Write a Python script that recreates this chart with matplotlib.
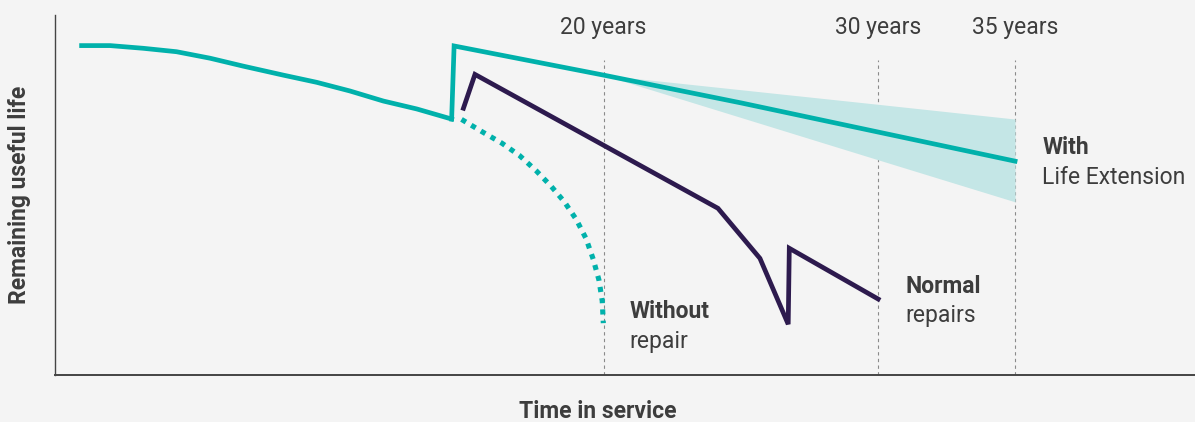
import matplotlib
matplotlib.use("Agg")
import matplotlib.pyplot as plt

# ---- data (x in years of service, y = remaining useful life, 0-100 scale) ----
before_years = [0.97, 2.01, 3.22, 4.43, 5.65, 6.86, 8.32, 9.54, 10.75, 11.97, 13.19, 14.46]
before_life = [91.5, 91.5, 90.75, 89.8, 88.0, 85.8, 83.3, 81.3, 78.9, 76.1, 73.9, 71.1]

extension_years = [14.46, 14.55, 20.0, 25.0, 30.0, 35.0]
extension_life = [71.1, 91.4, 83.3, 75.6, 67.5, 59.4]

band_years = [20.0, 30.0, 35.0]
band_upper = [83.3, 75.2, 71.1]
band_lower = [83.3, 59.8, 48.1]

no_repair_years = [14.82, 15.61, 16.29, 16.93, 17.54, 18.08, 18.57, 19.0, 19.36, 19.62,
                   19.83, 19.95, 19.99]
no_repair_life = [71.0, 67.4, 64.4, 61.0, 56.75, 52.5, 48.1, 43.25, 37.9, 32.2,
                  26.4, 20.6, 14.4]

normal_years = [14.89, 15.31, 24.17, 25.70, 26.73, 26.77, 30.01]
normal_life = [74.1, 83.5, 46.3, 32.4, 14.1, 35.2, 21.1]

milestone_years = [20, 30, 35]
milestone_labels = ["20 years", "30 years", "35 years"]

# ---- styling ----
BG = "#f4f4f4"
TEAL = "#00b1ab"
PURPLE = "#2d1a4e"
BAND = "#c4e6e6"
TXT = "#3d3d3d"
FS = 16.5
LW = 3.4
plt.rcParams["font.family"] = ["Roboto", "DejaVu Sans"]

W, H = 1195, 422
fig = plt.figure(figsize=(W / 100, H / 100), dpi=100, facecolor=BG)
ax = fig.add_axes([55 / W, (H - 375) / H, (W - 55) / W, 360 / H], facecolor=BG)
ax.set_xlim(0, (W - 55) / 27.43)
ax.set_ylim(0, 100)

for s in ["top", "right"]:
    ax.spines[s].set_visible(False)
ax.spines["left"].set_color("#444444")
ax.spines["bottom"].set_color("#444444")
ax.spines["left"].set_linewidth(1.0)
ax.spines["bottom"].set_linewidth(1.4)
ax.set_xticks([])
ax.set_yticks([])

# milestone dashed lines and labels
for yr, lab in zip(milestone_years, milestone_labels):
    ax.plot([yr, yr], [0, 87.5], color="#8a8a8a", lw=0.8, ls=(0, (3, 3)), zorder=1)
    ax.text(yr, 96.4, lab, ha="center", va="center", fontsize=FS, color=TXT)

# band
ax.fill_between(band_years, band_lower, band_upper, color=BAND, lw=0, zorder=2)

# lines
ax.plot(before_years, before_life, color=TEAL, lw=LW, solid_joinstyle="miter", zorder=4)
ax.plot(extension_years, extension_life, color=TEAL, lw=LW, solid_joinstyle="miter", zorder=4)
ax.plot(no_repair_years, no_repair_life, color=TEAL, lw=3.7, ls=(0, (1, 1.2)),
        dash_capstyle="butt", zorder=3)
ax.plot(normal_years, normal_life, color=PURPLE, lw=LW, solid_joinstyle="miter", zorder=5)

# annotations
def label(x, y, bold, normal):
    ax.text(x, y, bold, fontsize=FS, fontweight="bold", color=TXT, va="center", ha="left")
    ax.text(x, y - 8.3, normal, fontsize=FS, color=TXT, va="center", ha="left")

label(20.95, 17.5, "Without", "repair")
label(30.99, 24.7, "Normal", "repairs")
label(36.0, 63.1, "With", "Life Extension")

fig.text(598 / W, 1 - 411 / H, "Time in service", ha="center", va="center",
         fontsize=FS, fontweight="bold", color=TXT)
fig.text(20 / W, 1 - 195 / H, "Remaining useful life", ha="center", va="center",
         rotation=90, fontsize=FS, fontweight="bold", color=TXT)

fig.savefig("out.png", dpi=100, facecolor=BG)
